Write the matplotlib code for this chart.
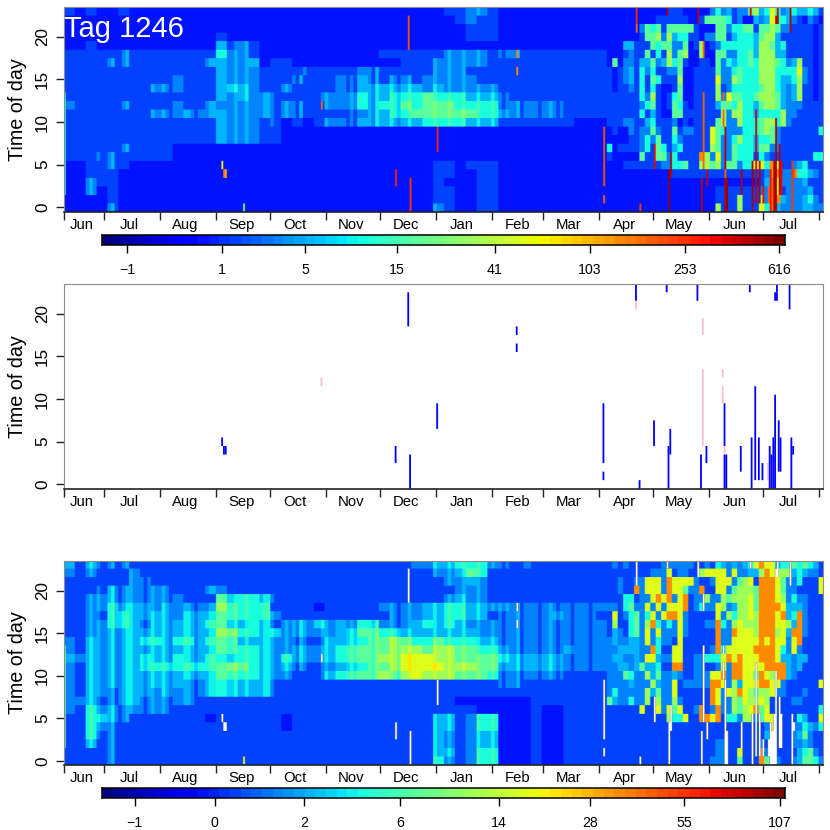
# Tag 1246: time of day against date, raw light, flagged spikes, corrected light
import numpy as np
import matplotlib
matplotlib.use("Agg")
import matplotlib.pyplot as plt

plt.rcParams['font.family'] = ['Liberation Sans', 'DejaVu Sans']

# Hour 23 on top, digit = level on the colour scale.
# First 5 groups are blocks of 6 days (day 0-300), last 4 groups blocks of 3 days (day 300-420)
top_rows = [
    "2121121111 1111111111 1111111111 1111122332 1111111111 1111111111 1222111113 5342336745 8534544542",
    "1111111111 1111111111 1111111111 1111112322 1111111111 1111111112 2222211266 6652311434 8554321321",
    "1111111111 1111111111 1111111111 1111111222 1111111111 1111113656 2666662111 6635566266 7633222212",
    "1111111111 1111211111 1111111111 1111111222 1111111111 1111112667 3745522133 6624555467 7422222212",
    "1121111111 1111433211 1111111111 1111111111 1111111111 1114422265 6633612712 3555555477 6452222212",
    "2222232222 2222543211 1111111112 2222233332 3322222222 1112322625 2736711711 6633556477 7442222212",
    "2222332222 2223443412 2111111111 1222333332 2222222222 1613324463 4756211221 6354556577 7653472212",
    "2222222222 2222443322 2232222332 2222333222 2222222222 2123425352 2336112222 6335655577 7555583212",
    "2222222222 3222443322 2322233432 3323333322 2222222222 2123425265 2227112222 8337655577 7544573212",
    "2222222233 3222454322 3222233444 4443433333 2222222222 2122325252 1126112222 7235555567 7543472212",
    "2222222222 2222444333 2223334544 5556555444 3222222222 2222225372 1256112222 7386655677 7643472212",
    "3222232222 3223343333 3322334545 5656665555 3333332222 2222223562 1265212222 4665755467 7643332222",
    "2222222233 3333443333 3322223344 5566666655 4333332222 2222225242 1166222222 2737755455 5573322222",
    "2222222222 2222443323 1212333444 4445555444 2222222111 2223322452 2231212222 6733755567 7573222222",
    "2222222222 2222443322 1111111111 1111111111 1111111111 1211323363 2262332228 6533355567 6322222225",
    "2222222222 2222443322 1111111111 1111111111 1111111111 1111223536 2253222228 6335755455 6322222222",
    "2222232222 1111111111 1111111111 1111111111 1111111111 5122223526 5245222227 6336555466 3322222222",
    "2223322222 1111111111 1111111111 1111111111 1111111111 2111116226 6352222973 8336555253 2222222255",
    "1122321111 1111111111 1111111111 1111221222 1111111111 1112222222 3355622776 7366355885 9822345222",
    "1122211111 1111111111 1111111111 1111221122 1111111111 1111111111 1122222222 2222222223 9933955432",
    "1132211111 1111111111 1111111111 1111211122 1111111111 1111111111 1111111111 1111111124 9833334222",
    "1131211111 1111111111 1111111111 1111221122 1111111111 1111111111 1111111111 2222222233 9823333422",
    "1111211111 1111111111 1111111111 1111221122 1111111111 1111111111 1111111111 2222722273 9943334532",
    "1111311111 1111111111 1111111111 1111321122 1111111111 1111111111 1111111111 7222722285 8433334433",
]

bottom_rows = [
    "4343332222 2222222222 2222222222 2233445553 3232222222 2323222222 3333332232 5434345898 8455656542",
    "3232223222 2222222222 2222222222 2222334652 2222222222 2222222233 3823322788 8838334479 8777454332",
    "2222223322 2222222222 2222222222 2222233432 2222222222 2232233888 3988883223 8883678299 9863352228",
    "2223433333 2223322222 2222222222 2222223332 2222222222 2232293888 3988633922 8836777699 9863322228",
    "2234433333 3222655543 2222222222 2222234332 2222222222 2225523389 8938923373 3767778699 9873533222",
    "2234544434 3333765552 2221222223 3334455443 4333333333 3325633838 3888923533 8734778699 9984443222",
    "2333554444 3444665554 2222222222 3334455442 3333343332 2823563583 8998322222 8375778799 9894593222",
    "2334554344 4445654543 3445344553 3345454333 3333333333 2722563795 3538322233 9537877799 9887493222",
    "2334444444 4444775545 3444345665 5444444433 3333333333 2432563838 3338322222 9339888799 9784993222",
    "3344444554 5545664444 3333445566 7655655544 3333333333 3433443835 3328222222 9338888898 9883892222",
    "3344444444 4444665544 3444456666 7776776655 4333334333 3344443395 2288222223 9588888999 9853832222",
    "4444444544 5445555544 5444456667 7888776666 5444443333 3443343884 3388223355 5898988899 9844344222",
    "3344444555 5555676544 4333345566 7888877766 4444443333 3344346445 2299223322 3839988889 9994342222",
    "3344444444 4444665544 3223456667 6787776665 3333332222 3336533746 3343223338 8939988698 7994322222",
    "3344444444 4334554443 2222222222 2222222222 3322222222 3333433374 3382333339 9837488899 8832222228",
    "3344344434 3334554443 2222222222 2222222222 2222222222 3533333746 3382222229 8387987677 8332223222",
    "3443344333 3322222222 2222222222 2222221111 1112222222 6433533727 3373222229 8337687787 2222332222",
    "3354433333 2222222222 2222222222 2222222211 1112112222 2222228228 3868223923 9337678968 2222222225",
    "2355432222 2221222222 1222222222 2222442355 1112112222 2222222222 2755822998 9255377368 8222254228",
    "2354322222 2222222222 1222222222 2222442355 1112112222 2222222222 2222222222 2222222223 8222335435",
    "2353322222 2222222222 2222222222 2222432344 1112112222 2222222222 2222222222 2222222224 7222346322",
    "2342322222 2222222222 2222222222 2222432344 1112112222 2222222222 2222222222 3322222232 6222334322",
    "2222322222 2222222222 2222222222 2222442355 1112112222 2222222222 2222222222 3322822293 5222245632",
    "2222322222 2222222222 2222222222 2222532355 1112112222 2222222222 2222222223 3322622296 9322346653",
]

level_tones = [0.12, 0.155, 0.20, 0.25, 0.31, 0.38, 0.46, 0.54, 0.62, 0.75]
block_widths = [6] * 50 + [3] * 40

# Days that stand out as darker or brighter stripes before the spring (two days wide)
dim_days = [6, 8, 10, 20, 22, 28, 30, 44, 58, 72, 90, 92, 116, 118, 128, 134, 136, 138, 140, 156, 160,
            170, 184, 242, 252, 262, 272, 280, 290]
bright_days = [14, 26, 34, 36, 48, 54, 66, 68, 80, 82, 100, 110, 112, 122, 130, 144, 172, 180, 190, 204,
               212, 220, 228, 236, 250, 268]
stripe_step = 0.05

# Spikes flagged blue in the middle panel, one cell wide
spike_day = [87, 88, 89, 190, 183, 191, 206, 250, 250, 298, 298, 316, 318, 333, 326, 335, 334, 350,
             352, 355, 365, 365, 366, 374, 379, 380, 382, 384, 386, 390, 391, 392, 393, 393, 394,
             394, 395, 396, 401, 402, 403]
spike_first = [5, 4, 4, 19, 3, 0, 7, 18, 16, 3, 1, 22, 0, 23, 5, 4, 0, 22,
               0, 3, 5, 0, 0, 2, 23, 0, 1, 1, 1, 0, 0, 0, 0, 22, 22,
               23, 2, 2, 21, 0, 4]
spike_last = [5, 4, 4, 22, 4, 3, 9, 18, 16, 9, 1, 23, 0, 23, 7, 6, 4, 23,
              3, 4, 9, 3, 3, 4, 23, 5, 11, 5, 2, 4, 3, 5, 10, 22, 22,
              23, 7, 5, 23, 5, 4]
spike_tone = [0.65, 0.78, 0.72, 0.82, 0.87, 0.85, 0.87, 0.76, 0.76, 0.82, 0.80, 0.87, 0.85, 0.95, 0.90,
              0.95, 0.97, 0.95, 0.93, 0.93, 0.95, 0.95, 0.97, 0.95, 0.92, 0.96, 0.93, 0.95, 0.90, 0.88,
              0.80, 0.95, 0.96, 0.95, 0.95, 0.92, 0.95, 0.90, 0.95, 0.85, 0.82]

# Cells flagged pink in the middle panel
faint_day = [142, 316, 353, 353, 364, 364, 365, 389]
faint_first = [12, 21, 18, 5, 13, 10, 4, 1]
faint_last = [12, 21, 19, 13, 13, 11, 4, 2]
faint_tone = 0.80

# Single bright cells outside the flagged ones: day, first hour, last hour, tone top, tone bottom
extra_day = [0, 99]
extra_first = [2, 0]
extra_last = [13, 0]
extra_top = [0.40, 0.50]
extra_bottom = [0.48, 0.63]

month_ticks = [0, 22, 53, 84, 114, 145, 175, 206, 237, 265, 296, 326, 357, 387, 418]
month_label_days = [10, 36, 67, 98, 128, 159, 189, 220, 251, 279, 310, 340, 371, 401]
month_names = ["Jun", "Jul", "Aug", "Sep", "Oct", "Nov", "Dec", "Jan", "Feb", "Mar", "Apr", "May", "Jun", "Jul"]

top_bar_values = [-1, 1, 5, 15, 41, 103, 253, 616]
bottom_bar_values = [-1, 0, 2, 6, 14, 28, 55, 107]

n_days = 420
n_hours = 24


def px_axes(fig, left, top, right, bottom):
    return fig.add_axes([left / 830, 1 - bottom / 830, (right - left) / 830, (bottom - top) / 830])


def rows_to_grid(rows):
    grid = np.zeros((n_hours, n_days))
    for r, row in enumerate(rows):
        levels = [level_tones[int(c)] for c in row.replace(" ", "")]
        grid[n_hours - 1 - r] = np.repeat(levels, block_widths)
    # day stripes only show on the lit part of the grid
    for days, step in [(dim_days, -stripe_step), (bright_days, stripe_step)]:
        for d in days:
            cells = grid[:, d:d + 2]
            cells[cells >= 0.25] += step
    return grid


def draw_grid(ax, grid, cmap):
    # rows are repeated so the smoothing stays inside one hour
    ax.imshow(np.repeat(grid, 8, axis=0), origin="lower", aspect="auto", cmap=cmap, vmin=0, vmax=1,
              extent=[0, n_days, -0.5, n_hours - 0.5], interpolation_stage="rgba")


def style_axes(ax):
    ax.set_xlim(0, n_days)
    ax.set_ylim(-0.5, n_hours - 0.5)
    for side in ["top", "left", "right"]:
        ax.spines[side].set_color("#8c8c8c")
    ax.spines["bottom"].set_color("#222222")
    ax.spines["bottom"].set_linewidth(1.2)
    ax.set_xticks(month_ticks)
    ax.set_xticklabels([])
    ax.tick_params(axis="x", which="major", length=5.8, width=1.0, color="#222222")
    ax.set_xticks(month_label_days, minor=True)
    ax.set_xticklabels(month_names, minor=True, fontsize=10.7)
    ax.tick_params(axis="x", which="minor", length=0, pad=4.4)
    ax.set_yticks([0, 5, 10, 15, 20])
    ax.set_yticklabels(["0", "5", "10", "15", "20"], rotation=90, va="center", fontsize=12.3)
    ax.tick_params(axis="y", length=5.8, width=1.0, color="#222222", pad=4.2)
    ax.set_ylabel("Time of day", fontsize=14.2, labelpad=5.5)


def draw_bar(fig, top, bottom, values, slope, shift, cmap):
    bar = px_axes(fig, 102, top, 785, bottom)
    edges = np.linspace(0, 1, 65)
    bar.pcolormesh(edges, [0, 1], ((edges[:-1] + edges[1:]) / 2)[None, :], cmap=cmap, vmin=0, vmax=1)
    bar.set_xlim(0, 1)
    bar.set_yticks([])
    ticks = [slope * np.log(v + 2.4) + shift for v in values]
    bar.set_xticks(ticks)
    bar.set_xticklabels([str(v).replace("-", "\u2212") for v in values], fontsize=10.2)
    bar.tick_params(axis="x", length=5.8, width=1.0, pad=6.8)
    for s in bar.spines.values():
        s.set_linewidth(1.1)


def main():
    cmap = plt.get_cmap("jet", 64)
    fig = plt.figure(figsize=(8.3, 8.3), dpi=100)

    # Raw light, spikes kept in their red shades
    top_grid = rows_to_grid(top_rows)
    for d, a, b, t in zip(spike_day, spike_first, spike_last, spike_tone):
        top_grid[a:b + 1, d] = t
    for d, a, b in zip(faint_day, faint_first, faint_last):
        top_grid[a:b + 1, d] = faint_tone
    for d, a, b, t in zip(extra_day, extra_first, extra_last, extra_top):
        top_grid[a:b + 1, d] = t

    ax1 = px_axes(fig, 64, 6.7, 823, 211.7)
    draw_grid(ax1, top_grid, cmap)
    style_axes(ax1)
    ax1.text(0.0, 0.852, "Tag 1246", color="white", fontsize=21, transform=ax1.transAxes)
    draw_bar(fig, 235, 245, top_bar_values, 0.1567, -0.0157, cmap)

    # Flagged cells only
    ax2 = px_axes(fig, 64, 283.7, 823, 488.7)
    for d, a, b in zip(faint_day, faint_first, faint_last):
        ax2.bar(d, b - a + 1, bottom=a - 0.5, width=1, align="edge", color="pink", linewidth=0, snap=False)
    for d, a, b in zip(spike_day, spike_first, spike_last):
        ax2.bar(d, b - a + 1, bottom=a - 0.5, width=1, align="edge", color="#0000ff", linewidth=0, snap=False)
    style_axes(ax2)

    # Corrected light, flagged cells left empty
    bottom_grid = rows_to_grid(bottom_rows)
    for d, a, b, t in zip(extra_day, extra_first, extra_last, extra_bottom):
        bottom_grid[a:b + 1, d] = t
    for d, a, b in zip(spike_day + faint_day, spike_first + faint_first, spike_last + faint_last):
        bottom_grid[a:b + 1, d] = np.nan

    ax3 = px_axes(fig, 64, 560.7, 823, 765.3)
    draw_grid(ax3, np.ma.masked_invalid(bottom_grid), cmap)
    style_axes(ax3)
    draw_bar(fig, 788.3, 798.3, bottom_bar_values, 0.2167, -0.0249, cmap)

    fig.savefig("out.png", dpi=100)


if __name__ == '__main__':
    main()
